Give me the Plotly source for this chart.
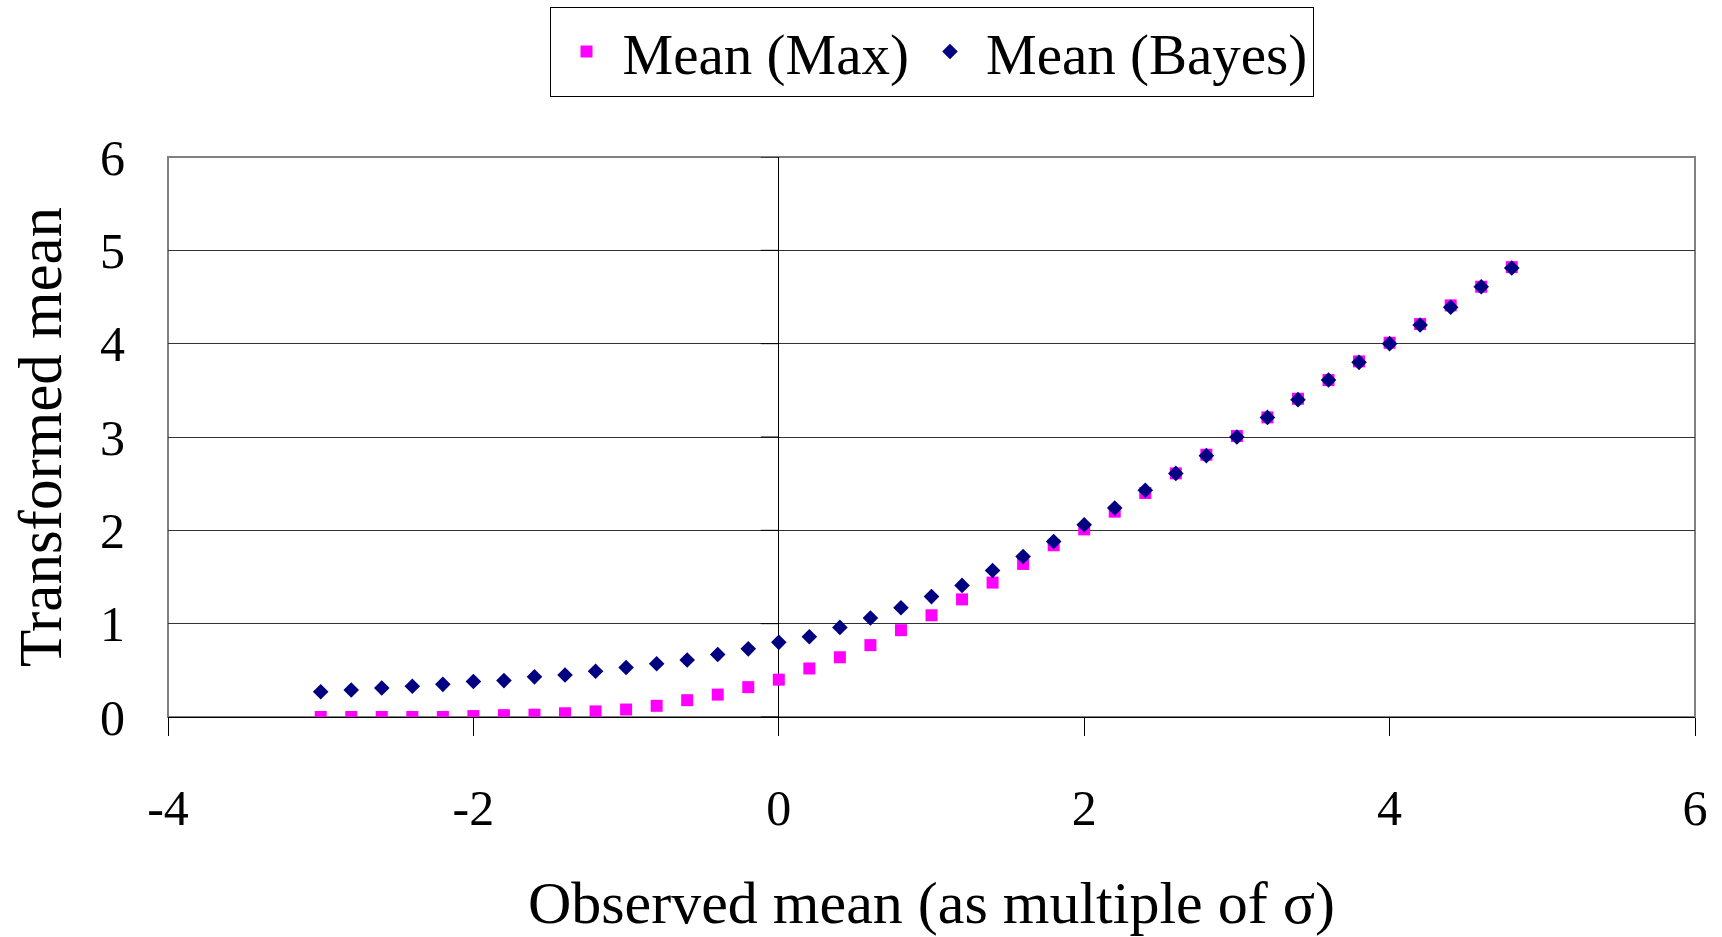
import plotly.graph_objects as go

observed = [-3.0, -2.8, -2.6, -2.4, -2.2, -2.0, -1.8, -1.6, -1.4, -1.2,
            -1.0, -0.8, -0.6, -0.4, -0.2, 0.0, 0.2, 0.4, 0.6, 0.8,
            1.0, 1.2, 1.4, 1.6, 1.8, 2.0, 2.2, 2.4, 2.6, 2.8,
            3.0, 3.2, 3.4, 3.6, 3.8, 4.0, 4.2, 4.4, 4.6, 4.8]

mean_max = [0.00, 0.00, 0.00, 0.00, 0.00, 0.01, 0.02, 0.025, 0.04, 0.06,
            0.08, 0.12, 0.18, 0.24, 0.32, 0.40, 0.52, 0.64, 0.77, 0.93,
            1.09, 1.26, 1.44, 1.64, 1.84, 2.01, 2.20, 2.40, 2.61, 2.81,
            3.01, 3.21, 3.41, 3.61, 3.81, 4.01, 4.21, 4.41, 4.61, 4.82]

mean_bayes = [0.27, 0.29, 0.31, 0.33, 0.35, 0.38, 0.39, 0.43, 0.45, 0.49,
              0.53, 0.57, 0.61, 0.67, 0.73, 0.80, 0.86, 0.96, 1.06, 1.17,
              1.29, 1.41, 1.57, 1.72, 1.88, 2.06, 2.24, 2.43, 2.61, 2.80,
              3.00, 3.21, 3.40, 3.61, 3.80, 4.00, 4.20, 4.39, 4.61, 4.81]

x_ticks = [-4, -2, 0, 2, 4, 6]
x_tick_text = ["-4", "-2", "0", "2", "4", "6"]
y_ticks = [0, 1, 2, 3, 4, 5, 6]

FONT = "Liberation Serif"

fig = go.Figure()
fig.add_trace(go.Scatter(x=observed, y=mean_max, mode="markers", name="Mean (Max)",
                         marker=dict(symbol="square", size=12, color="#FF00FF")))
fig.add_trace(go.Scatter(x=observed, y=mean_bayes, mode="markers", name="Mean (Bayes)",
                         marker=dict(symbol="diamond", size=12, color="#000080")))

# small ticks on the vertical axis crossing at x=0
for v in y_ticks:
    fig.add_shape(type="line", xref="x", yref="y", xsizemode="pixel", xanchor=0,
                  x0=-18, x1=0, y0=v, y1=v, line=dict(color="black", width=1))

# plot-area frame in grey
fig.add_shape(type="rect", xref="paper", yref="paper", x0=0, x1=1, y0=0, y1=1,
              line=dict(color="#808080", width=2), layer="below")

fig.update_layout(
    width=1722, height=937,
    margin=dict(l=168, r=27, t=157, b=220, autoexpand=False),
    paper_bgcolor="white", plot_bgcolor="white",
    font=dict(family=FONT, color="black"),
    showlegend=True,
    legend=dict(orientation="h", x=0.5, xanchor="center", y=1.268, yanchor="top",
                font=dict(family=FONT, size=57), bordercolor="black", borderwidth=1,
                bgcolor="white", itemsizing="trace", itemwidth=62),
    xaxis=dict(range=[-4, 6], tickvals=x_ticks, ticktext=x_tick_text,
               ticks="outside", ticklen=18,
               tickcolor="black", tickwidth=1, showgrid=False,
               zeroline=True, zerolinecolor="black", zerolinewidth=1,
               showline=True, linecolor="black", linewidth=1,
               tickfont=dict(family=FONT, size=50), ticklabelstandoff=29,
               title=dict(text="Observed mean (as multiple of σ)",
                          font=dict(family=FONT, size=60), standoff=45)),
    yaxis=dict(range=[0, 6], tickvals=y_ticks, ticks="", showgrid=True,
               gridcolor="#333333", gridwidth=1, zeroline=False,
               tickfont=dict(family=FONT, size=50), ticklabelstandoff=42,
               title=dict(text="Transformed mean", font=dict(family=FONT, size=61),
                          standoff=18)),
)

fig.write_html("out.html")
